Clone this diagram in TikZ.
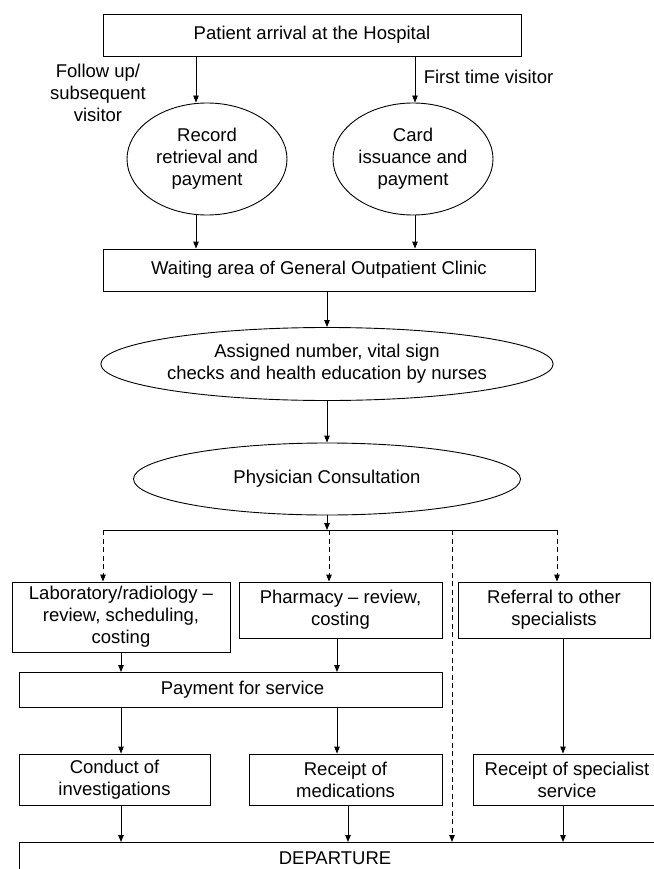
\documentclass[tikz,border=0pt]{standalone}
\usepackage{fontspec}
\setmainfont{Liberation Sans}
\usetikzlibrary{positioning,calc,shapes.geometric,arrows.meta}

\begin{document}
\begin{tikzpicture}[x=1pt,y=-1pt,line width=0.9pt,>={Triangle[length=7pt,width=5.5pt]},
  font=\fontsize{18.5}{22}\selectfont,
  blk/.style={draw,rectangle,align=center,inner sep=0pt},
  oval/.style={draw,ellipse,align=center,inner sep=0pt},
  dashy/.style={dash pattern=on 5pt off 3.5pt}]
\useasboundingbox (0,0) rectangle (653,869);
% columns of the arrows
\coordinate (colA) at (196,0);
\coordinate (colB) at (415,0);
\coordinate (colL) at (103,0);
\coordinate (colP) at (329,0);
\coordinate (colD) at (452,0);
\coordinate (colR) at (557,0);
\coordinate (colQ) at (121,0);
\coordinate (colM) at (337,0);
\coordinate (colN) at (348,0);
\coordinate (colS) at (563,0);
\coordinate (split) at (327,530);
% nodes
\node[blk,minimum width=418,minimum height=42] (arrive) at (312,35) {Patient arrival at the Hospital};
\node[align=center] (follow) at (98,93) {Follow up/\\subsequent\\visitor};
\node[anchor=west] (first) at (420,77) {First time visitor};
\node[oval,minimum width=160,minimum height=112] (record) at (207,159) {Record\\retrieval and\\payment};
\node[oval,minimum width=160,minimum height=112] (card) at (413,159) {Card\\issuance and\\payment};
\node[blk,minimum width=432,minimum height=42] (waiting) at (319,270) {Waiting area of General Outpatient Clinic};
\node[oval,minimum width=446,minimum height=73] (assigned) at (327,364) {Assigned number, vital sign\\checks and health education by nurses};
\node[oval,minimum width=387,minimum height=72] (physician) at (327,479) {Physician Consultation};
\node[blk,minimum width=218,minimum height=70] (lab) at (121,617) {Laboratory/radiology --\\review, scheduling,\\costing};
\node[blk,minimum width=203,minimum height=56] (pharmacy) at (340.5,610) {Pharmacy -- review,\\costing};
\node[blk,minimum width=192,minimum height=56] (referral) at (554,610) {Referral to other\\specialists};
\node[blk,minimum width=423,minimum height=35] (payment) at (230.5,690) {\hspace*{24pt}Payment for service};
\node[blk,minimum width=191,minimum height=51] (conduct) at (114.5,779.5) {Conduct of\\investigations};
\node[blk,minimum width=193,minimum height=51] (medication) at (345.5,779.5) {Receipt of\\medications};
\node[blk,minimum width=188,minimum height=51] (specialist) at (567,779.5) {Receipt of specialist\\service};
\node[blk,anchor=north west,minimum width=681,minimum height=58] (depart) at (19,842) {};
\node (departtext) at (335,858) {DEPARTURE};
\path[->]
	(arrive.south -| colA) edge (record.north -| colA)
	(arrive.south -| colB) edge (card.north -| colB)
	(record.south -| colA) edge (waiting.north -| colA)
	(card.south -| colB) edge (waiting.north -| colB)
	(waiting.south -| assigned.north) edge (assigned.north)
	(assigned.south) edge (physician.north)
	(physician.south) edge (split)
; %-path-%
\draw (split -| colL) -- (split -| colR);
\path[->,dashy]
	(split -| colL) edge (lab.north -| colL)
	(split -| colP) edge (pharmacy.north -| colP)
	(split -| colD) edge (depart.north -| colD)
	(split -| colR) edge (referral.north -| colR)
;
\path[->]
	(lab.south -| colQ) edge (payment.north -| colQ)
	(pharmacy.south -| colM) edge (payment.north -| colM)
	(payment.south -| colQ) edge (conduct.north -| colQ)
	(payment.south -| colM) edge (medication.north -| colM)
	(referral.south -| colS) edge (specialist.north -| colS)
	(conduct.south -| colQ) edge (depart.north -| colQ)
	(medication.south -| colN) edge (depart.north -| colN)
	(specialist.south -| colS) edge (depart.north -| colS)
;
\end{tikzpicture}
\end{document}
